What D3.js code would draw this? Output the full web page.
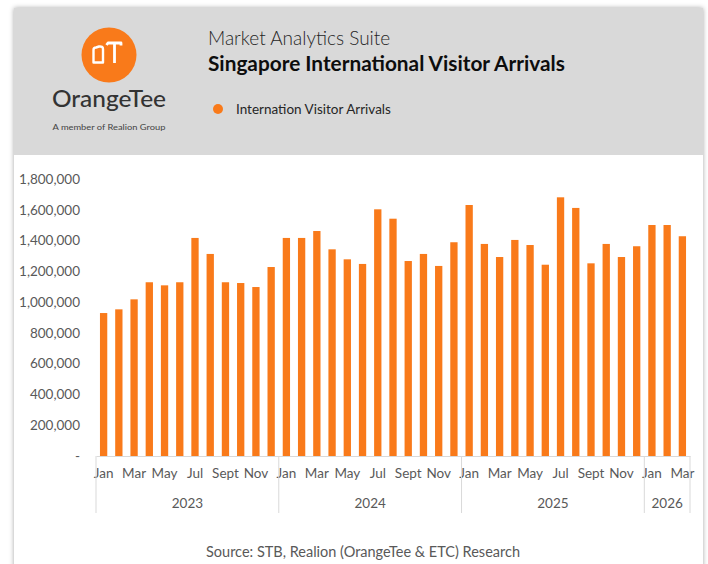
<!DOCTYPE html>
<html>
<head>
<meta charset="utf-8">
<script src="https://cdn.jsdelivr.net/npm/d3@7"></script>
<style>
  body { margin: 0; background: #fff; }
  svg { display: block; font-family: Lato, "Open Sans", sans-serif; }
</style>
</head>
<body>
<svg width="708" height="564"></svg>
<script>
// months shown on the chart, Jan 2023 .. Mar 2026
var periods = [
  "2023-01","2023-02","2023-03","2023-04","2023-05","2023-06","2023-07","2023-08","2023-09","2023-10","2023-11","2023-12",
  "2024-01","2024-02","2024-03","2024-04","2024-05","2024-06","2024-07","2024-08","2024-09","2024-10","2024-11","2024-12",
  "2025-01","2025-02","2025-03","2025-04","2025-05","2025-06","2025-07","2025-08","2025-09","2025-10","2025-11","2025-12",
  "2026-01","2026-02","2026-03"
];

// international visitor arrivals
var arrivals = [
  929000, 953000, 1018000, 1129000, 1109000, 1129000, 1417000, 1313000, 1129000, 1124000, 1098000, 1228000,
  1417000, 1417000, 1462000, 1343000, 1278000, 1248000, 1603000, 1542000, 1267000, 1313000, 1235000, 1389000,
  1631000, 1378000, 1293000, 1404000, 1371000, 1243000, 1681000, 1612000, 1252000, 1378000, 1293000, 1363000,
  1501000, 1501000, 1428000
];

var years = ["2023", "2024", "2025", "2026"];
var monthTicks = {"01": "Jan", "03": "Mar", "05": "May", "07": "Jul", "09": "Sept", "11": "Nov"};
var yTicks = [0, 200000, 400000, 600000, 800000, 1000000, 1200000, 1400000, 1600000, 1800000];

var orange = "#f97a1a",
    grey = "#595959";

var svg = d3.select("svg");

// card + shadow
var defs = svg.append("defs");
var f = defs.append("filter").attr("id", "shadow")
    .attr("x", "-5%").attr("y", "-5%").attr("width", "110%").attr("height", "110%");
f.append("feDropShadow").attr("dx", 0).attr("dy", 0).attr("stdDeviation", 2.5)
    .attr("flood-color", "#000").attr("flood-opacity", 0.35);

svg.append("rect")
    .attr("x", 14).attr("y", 8).attr("width", 689).attr("height", 620)
    .attr("fill", "#fff").attr("filter", "url(#shadow)");

svg.append("rect")
    .attr("x", 14).attr("y", 8).attr("width", 689).attr("height", 147)
    .attr("fill", "#d9d9d9");

// logo
var logo = svg.append("g");
logo.append("circle").attr("cx", 109).attr("cy", 55).attr("r", 27.5).attr("fill", orange);
logo.append("path")
    .attr("d", "M93.5,50 Q93.5,47.5 96,47.5 L99,46.5 Q103,46 103,49 L103,62.5 L93.5,62.5 Z")
    .attr("fill", "none").attr("stroke", "#fff").attr("stroke-width", 2.4)
    .attr("stroke-linejoin", "round");
logo.append("path")
    .attr("d", "M106.5,45 L108,43 L121,43 L121,45.5 M114.5,43.5 L114.5,63")
    .attr("fill", "none").attr("stroke", "#fff").attr("stroke-width", 2.8)
    .attr("stroke-linejoin", "round");
logo.append("text")
    .attr("x", 109).attr("y", 107)
    .attr("text-anchor", "middle")
    .attr("font-size", 23).attr("font-weight", 500)
    .attr("fill", "#333")
    .attr("textLength", 114).attr("lengthAdjust", "spacingAndGlyphs")
    .text("OrangeTee");
logo.append("text")
    .attr("x", 109).attr("y", 130)
    .attr("text-anchor", "middle")
    .attr("font-size", 7.5)
    .attr("fill", "#444")
    .attr("textLength", 113).attr("lengthAdjust", "spacingAndGlyphs")
    .text("A member of Realion Group");

// titles
svg.append("text")
    .attr("x", 208).attr("y", 45)
    .attr("font-size", 19).attr("font-weight", 300)
    .attr("fill", "#262626")
    .text("Market Analytics Suite");
svg.append("text")
    .attr("x", 208).attr("y", 71)
    .attr("font-size", 20.8).attr("font-weight", 700)
    .attr("fill", "#0d0d0d")
    .text("Singapore International Visitor Arrivals");

// legend
svg.append("circle").attr("cx", 218).attr("cy", 109).attr("r", 5).attr("fill", orange);
svg.append("text")
    .attr("x", 236).attr("y", 114)
    .attr("font-size", 13.5)
    .attr("fill", "#262626")
    .text("Internation Visitor Arrivals");

// scales
var x = d3.scaleBand()
    .domain(periods)
    .range([96, 690])
    .paddingInner(0.52)
    .paddingOuter(0.26);

var y = d3.scaleLinear()
    .domain([0, 1800000])
    .range([456, 179]);

// y axis
var yAxis = svg.append("g")
    .attr("transform", "translate(80,0)")
    .call(d3.axisLeft(y).tickValues(yTicks).tickSize(0).tickPadding(0)
      .tickFormat(function(d) { return d === 0 ? "-" : d3.format(",")(d); }));
yAxis.select(".domain").remove();
yAxis.selectAll("text")
    .attr("font-family", "Lato, sans-serif")
    .attr("font-size", 13.5)
    .attr("fill", grey);

// bars
svg.append("g")
  .selectAll("rect")
  .data(periods)
  .enter().append("rect")
    .attr("x", function(d) { return x(d); })
    .attr("y", function(d, i) { return y(arrivals[i]); })
    .attr("width", x.bandwidth())
    .attr("height", function(d, i) { return y(0) - y(arrivals[i]); })
    .attr("fill", orange);

// x axis with month ticks
var xAxis = svg.append("g")
    .attr("transform", "translate(0," + y(0) + ")")
    .call(d3.axisBottom(x)
      .tickValues(periods.filter(function(p) { return monthTicks[p.slice(5)]; }))
      .tickSize(0).tickPadding(12)
      .tickFormat(function(p) { return monthTicks[p.slice(5)]; }));
xAxis.select(".domain").attr("stroke", "#d9d9d9");
xAxis.selectAll("text")
    .attr("font-family", "Lato, sans-serif")
    .attr("font-size", 13.5)
    .attr("fill", grey);

// year groups
var step = x.step();
var yearGroups = years.map(function(yr) {
  var ps = periods.filter(function(p) { return p.slice(0, 4) === yr; });
  var x0 = x(ps[0]) - (step - x.bandwidth()) / 2;
  return {year: yr, x0: x0, x1: x0 + ps.length * step};
});

var dividers = [yearGroups[0].x0].concat(yearGroups.map(function(g) { return g.x1; }));
svg.append("g")
  .selectAll("line")
  .data(dividers)
  .enter().append("line")
    .attr("x1", function(d) { return d; })
    .attr("x2", function(d) { return d; })
    .attr("y1", y(0))
    .attr("y2", 513)
    .attr("stroke", "#d9d9d9");

svg.append("g")
  .selectAll("text")
  .data(yearGroups)
  .enter().append("text")
    .attr("x", function(d) { return (d.x0 + d.x1) / 2; })
    .attr("y", 508)
    .attr("text-anchor", "middle")
    .attr("font-size", 13.5)
    .attr("fill", grey)
    .text(function(d) { return d.year; });

// source
svg.append("text")
    .attr("x", 363).attr("y", 557)
    .attr("text-anchor", "middle")
    .attr("font-size", 14.5)
    .attr("fill", grey)
    .text("Source: STB, Realion (OrangeTee & ETC) Research");
</script>
</body>
</html>
